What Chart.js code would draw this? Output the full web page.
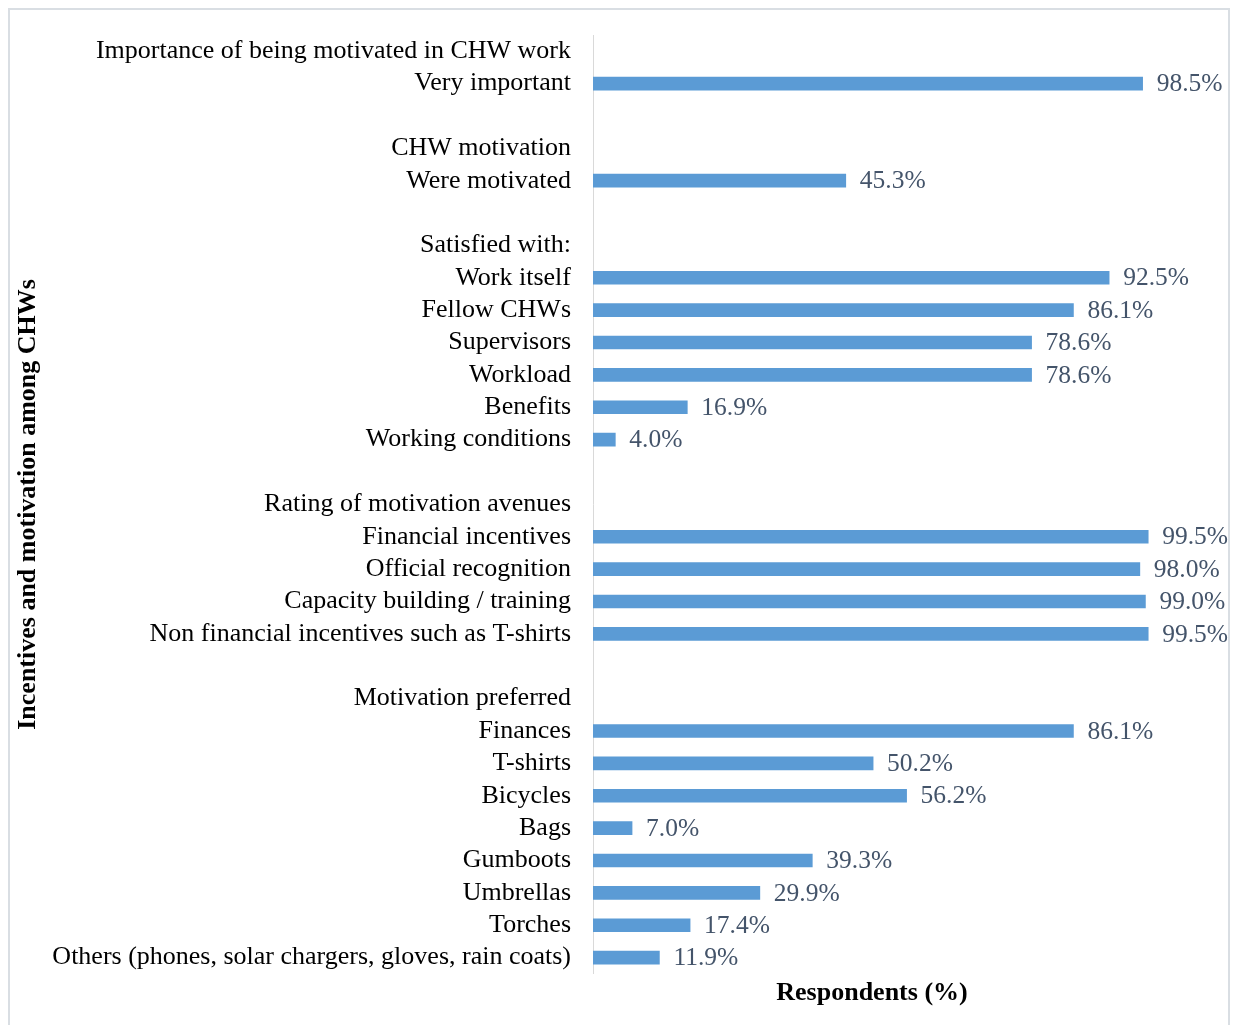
<!DOCTYPE html>
<html>
<head>
<meta charset="utf-8">
<script src="https://cdn.jsdelivr.net/npm/chart.js@4/dist/chart.umd.min.js"></script>
<style>
  html, body { margin: 0; padding: 0; background: #ffffff; }
  #c { display: block; }
</style>
</head>
<body>
<canvas id="c" width="1233" height="1025"></canvas>
<script>
// ---- Data ----
const importanceHeader = "Importance of being motivated in CHW work";
const importanceLabels = ["Very important"];
const importanceValues = [98.5];

const motivationHeader = "CHW motivation";
const motivationLabels = ["Were motivated"];
const motivationValues = [45.3];

const satisfiedHeader = "Satisfied with:";
const satisfiedLabels = ["Work itself", "Fellow CHWs", "Supervisors", "Workload", "Benefits", "Working conditions"];
const satisfiedValues = [92.5, 86.1, 78.6, 78.6, 16.9, 4.0];

const ratingHeader = "Rating of motivation avenues";
const ratingLabels = ["Financial incentives", "Official recognition", "Capacity building / training", "Non financial incentives such as T-shirts"];
const ratingValues = [99.5, 98.0, 99.0, 99.5];

const preferredHeader = "Motivation preferred";
const preferredLabels = ["Finances", "T-shirts", "Bicycles", "Bags", "Gumboots", "Umbrellas", "Torches", "Others (phones, solar chargers, gloves, rain coats)"];
const preferredValues = [86.1, 50.2, 56.2, 7.0, 39.3, 29.9, 17.4, 11.9];

const xAxisTitle = "Respondents (%)";
const yAxisTitle = "Incentives and motivation among CHWs";

// ---- Build category list: header row, items, blank separator ----
const groups = [
  [importanceHeader, importanceLabels, importanceValues],
  [motivationHeader, motivationLabels, motivationValues],
  [satisfiedHeader, satisfiedLabels, satisfiedValues],
  [ratingHeader, ratingLabels, ratingValues],
  [preferredHeader, preferredLabels, preferredValues]
];
const categories = [];
const values = [];
groups.forEach((g, gi) => {
  if (gi > 0) { categories.push(""); values.push(null); }
  categories.push(g[0]); values.push(null);
  g[1].forEach((lab, i) => { categories.push(lab); values.push(g[2][i]); });
});

const SERIF = '"Liberation Serif", "Times New Roman", serif';

const framePlugin = {
  id: 'frame',
  beforeDraw(chart) {
    const ctx = chart.ctx;
    ctx.save();
    ctx.fillStyle = '#ffffff';
    ctx.fillRect(0, 0, chart.width, chart.height);
    ctx.strokeStyle = '#D9DEE3';
    ctx.lineWidth = 2;
    ctx.strokeRect(9, 9, 1220, 1030);
    ctx.restore();
  }
};

const valueLabelPlugin = {
  id: 'valueLabels',
  afterDatasetsDraw(chart) {
    const ctx = chart.ctx;
    const meta = chart.getDatasetMeta(0);
    const data = chart.data.datasets[0].data;
    ctx.save();
    ctx.font = '25.5px ' + SERIF;
    ctx.fillStyle = '#44546A';
    ctx.textAlign = 'left';
    ctx.textBaseline = 'middle';
    meta.data.forEach((bar, i) => {
      const v = data[i];
      if (v === null || v === undefined) return;
      ctx.fillText(v.toFixed(1) + '%', bar.x + 14, bar.y + 1);
    });
    ctx.restore();
  }
};

new Chart(document.getElementById('c'), {
  type: 'bar',
  data: {
    labels: categories,
    datasets: [{
      data: values,
      backgroundColor: '#5B9BD5',
      borderWidth: 0,
      barThickness: 13
    }]
  },
  plugins: [framePlugin, valueLabelPlugin],
  options: {
    indexAxis: 'y',
    responsive: false,
    animation: false,
    devicePixelRatio: 1,
    layout: { padding: { top: 34, right: 82, bottom: 12, left: 0 } },
    plugins: {
      legend: { display: false },
      tooltip: { enabled: false }
    },
    scales: {
      x: {
        min: 0,
        max: 100,
        grid: { display: false, drawTicks: false },
        border: { display: false },
        ticks: { display: false },
        title: {
          display: true,
          text: xAxisTitle,
          color: '#000000',
          font: { family: SERIF, size: 26, weight: 'bold' },
          padding: { top: 4, bottom: 4 }
        }
      },
      y: {
        grid: { display: false, drawTicks: false },
        border: { display: true, color: '#D9D9D9', width: 1 },
        ticks: {
          autoSkip: false,
          padding: 22,
          color: '#000000',
          font: { family: SERIF, size: 26, lineHeight: 1 }
        },
        title: {
          display: true,
          text: yAxisTitle,
          color: '#000000',
          font: { family: SERIF, size: 26, weight: 'bold' },
          padding: { top: 13, bottom: 0 }
        },
        afterFit(scale) { scale.width = 593; }
      }
    }
  }
});
</script>
</body>
</html>
